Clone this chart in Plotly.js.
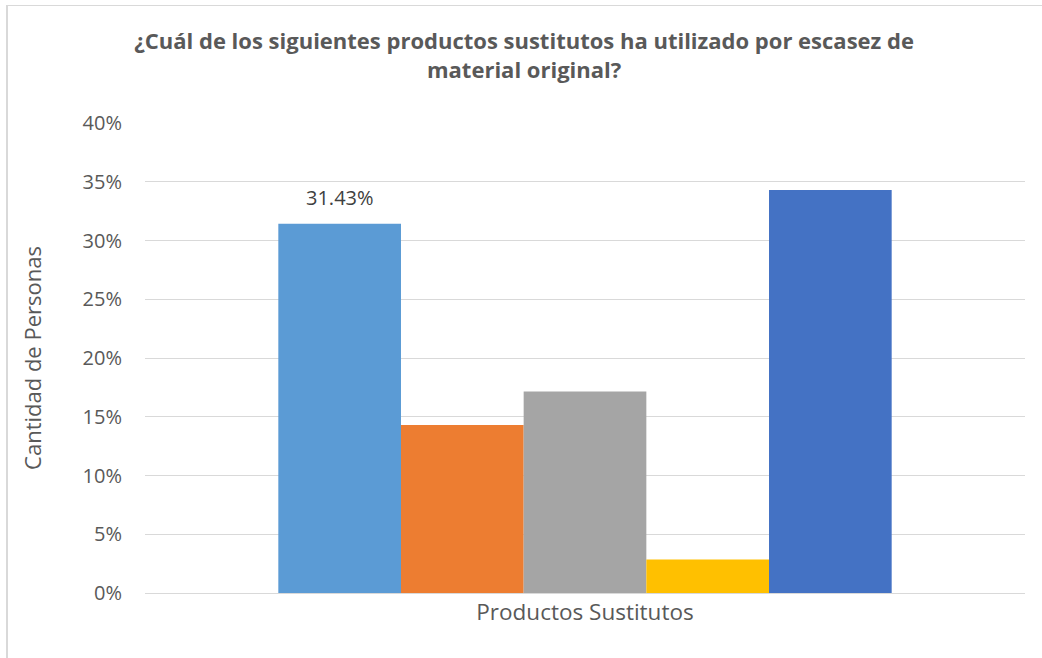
<!DOCTYPE html>
<html>
<head>
<meta charset="utf-8">
<script src="https://cdn.plot.ly/plotly-3.0.1.min.js"></script>
<style>
  html, body { margin: 0; padding: 0; background: #fff; }
  #wrap { position: relative; width: 1042px; height: 658px; }
  #chart { width: 1042px; height: 658px; }
  #frame { position: absolute; left: 6px; top: 5px; right: 0; bottom: 0;
           border-left: 2px solid #D9D9D9; border-top: 1px solid #D9D9D9; pointer-events: none; }
</style>
</head>
<body>
<div id="wrap">
  <div id="chart"></div>
  <div id="frame"></div>
</div>
<script>
const category = ["Productos Sustitutos"];
const seriesNames = ["Serie 1", "Serie 2", "Serie 3", "Serie 4", "Serie 5"];
const seriesValues = [0.3143, 0.1429, 0.1714, 0.0286, 0.3429];
const seriesColors = ["#5B9BD5", "#ED7D31", "#A5A5A5", "#FFC000", "#4472C4"];
const labelShown = [true, false, false, false, false];
const yTickVals = [0, 0.05, 0.10, 0.15, 0.20, 0.25, 0.30, 0.35, 0.40];
const yTickText = ["0%", "5%", "10%", "15%", "20%", "25%", "30%", "35%", "40%"];

const font = "Open Sans, Noto Sans, sans-serif";

const traces = seriesValues.map((v, i) => ({
  type: "bar",
  name: seriesNames[i],
  x: category,
  y: [v],
  marker: { color: seriesColors[i], line: { width: 0 } },
  hoverinfo: "y+name"
}));

const layout = {
  width: 1042,
  height: 658,
  paper_bgcolor: "#ffffff",
  plot_bgcolor: "#ffffff",
  showlegend: false,
  barmode: "group",
  bargap: 0.303,
  bargroupgap: 0,
  margin: { l: 145, r: 17, t: 123, b: 65 },
  title: {
    text: "<b>¿Cuál de los siguientes productos sustitutos ha utilizado por escasez de<br>material original?</b>",
    font: { family: font, size: 22, color: "#595959" },
    x: 0.503, xanchor: "center",
    yref: "container",
    y: 0.925, yanchor: "middle"
  },
  xaxis: {
    type: "category",
    showgrid: false,
    showline: false,
    zeroline: false,
    ticks: "",
    tickfont: { family: font, size: 22.5, color: "#595959" },
    ticklabelstandoff: 3
  },
  yaxis: {
    range: [0, 0.40],
    tickvals: yTickVals,
    ticktext: yTickText,
    showgrid: true,
    gridcolor: "#D9D9D9",
    gridwidth: 1,
    zeroline: true,
    zerolinecolor: "#D9D9D9",
    zerolinewidth: 1,
    showline: false,
    ticks: "",
    ticklabelstandoff: 22,
    tickfont: { family: font, size: 20, color: "#595959" },
    title: {
      text: "Cantidad de Personas",
      font: { family: font, size: 22, color: "#595959" },
      standoff: 34
    }
  }
};

const gd = document.getElementById("chart");
Plotly.newPlot(gd, traces, layout, { displayModeBar: false, staticPlot: true }).then(() => {
  // data labels placed at the library-computed bar centres
  const anns = [];
  gd.calcdata.forEach((cd, i) => {
    if (!labelShown[i]) return;
    const pt = cd[0];
    let xc = pt.x;
    if (typeof xc !== "number" || xc === pt.p) {
      const t = cd[0].t || {};
      const off = Array.isArray(t.poffset) ? t.poffset[0] : (t.poffset || 0);
      const bw = Array.isArray(t.barwidth) ? t.barwidth[0] : (t.barwidth || 0);
      xc = pt.p + off + bw / 2;
    }
    anns.push({
      xref: "x", yref: "y",
      x: xc, y: seriesValues[i],
      text: (seriesValues[i] * 100).toFixed(2) + "%",
      showarrow: false,
      yanchor: "middle",
      yshift: 26,
      font: { family: font, size: 20, color: "#404040" }
    });
  });
  return Plotly.relayout(gd, { annotations: anns });
});
</script>
</body>
</html>
